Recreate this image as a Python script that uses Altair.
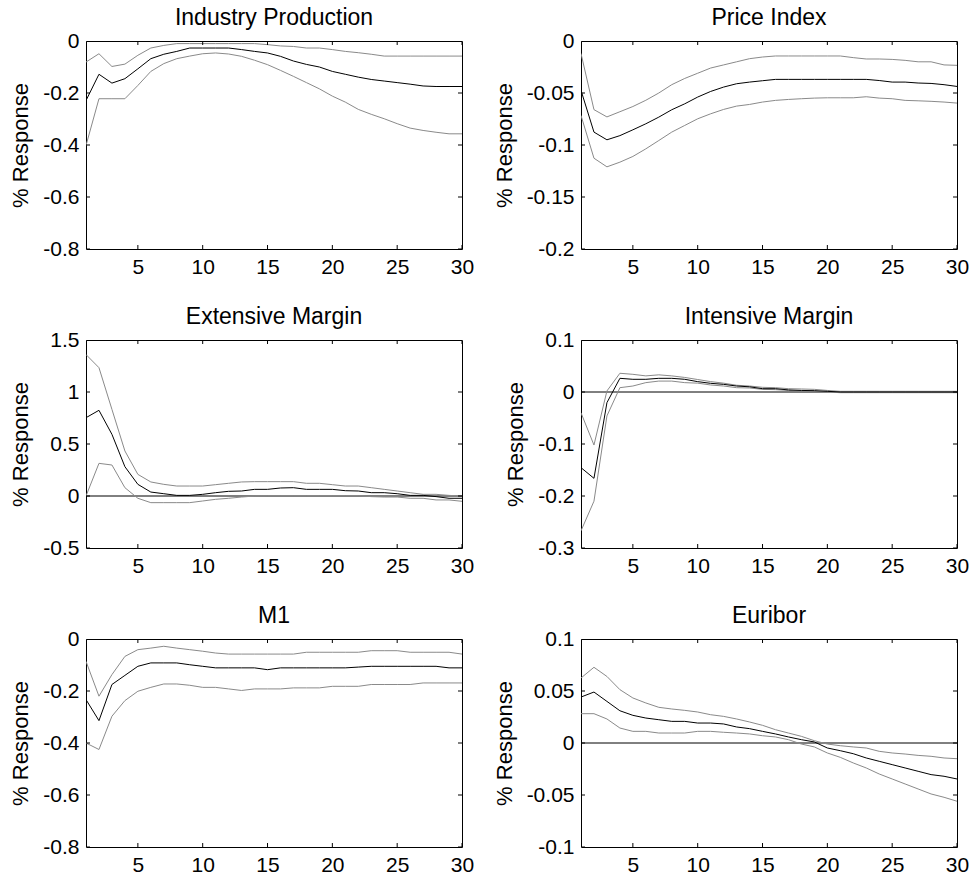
import altair as alt
import pandas as pd

# Impulse responses over a 30-period horizon: median with lower/upper bands
steps = list(range(1, 31))
x_ticks = [5, 10, 15, 20, 25, 30]

ip_median = [-0.229, -0.128, -0.162, -0.145, -0.107, -0.068, -0.051, -0.040, -0.027, -0.027,
             -0.027, -0.027, -0.033, -0.040, -0.046, -0.059, -0.077, -0.090, -0.100, -0.117,
             -0.128, -0.139, -0.148, -0.154, -0.160, -0.166, -0.173, -0.175, -0.175, -0.175]
ip_upper = [-0.081, -0.049, -0.098, -0.089, -0.055, -0.027, -0.017, -0.010, -0.010, -0.010,
            -0.010, -0.010, -0.010, -0.010, -0.014, -0.019, -0.021, -0.027, -0.027, -0.033,
            -0.040, -0.045, -0.051, -0.058, -0.058, -0.058, -0.058, -0.058, -0.058, -0.058]
ip_lower = [-0.402, -0.222, -0.222, -0.222, -0.171, -0.117, -0.087, -0.068, -0.058, -0.049,
            -0.046, -0.050, -0.059, -0.074, -0.091, -0.113, -0.136, -0.160, -0.184, -0.212,
            -0.235, -0.263, -0.282, -0.299, -0.318, -0.335, -0.344, -0.351, -0.357, -0.357]

pi_median = [-0.0475, -0.0876, -0.0950, -0.0910, -0.0854, -0.0796, -0.0732, -0.0661, -0.0604, -0.0539,
             -0.0485, -0.0443, -0.0411, -0.0395, -0.0382, -0.0369, -0.0369, -0.0369, -0.0369, -0.0369,
             -0.0369, -0.0369, -0.0369, -0.0380, -0.0395, -0.0395, -0.0404, -0.0408, -0.0420, -0.0437]
pi_upper = [-0.0120, -0.0660, -0.0730, -0.0680, -0.0630, -0.0570, -0.0500, -0.0420, -0.0360, -0.0310,
            -0.0260, -0.0230, -0.0200, -0.0170, -0.0154, -0.0144, -0.0144, -0.0144, -0.0144, -0.0144,
            -0.0144, -0.0160, -0.0173, -0.0173, -0.0177, -0.0186, -0.0200, -0.0200, -0.0230, -0.0234]
pi_lower = [-0.0716, -0.1127, -0.1210, -0.1165, -0.1110, -0.1037, -0.0957, -0.0876, -0.0812, -0.0748,
            -0.0700, -0.0658, -0.0626, -0.0610, -0.0587, -0.0571, -0.0562, -0.0555, -0.0549, -0.0546,
            -0.0546, -0.0546, -0.0536, -0.0549, -0.0555, -0.0571, -0.0575, -0.0580, -0.0587, -0.0597]

em_median = [0.753, 0.824, 0.593, 0.282, 0.112, 0.038, 0.022, 0.006, 0.006, 0.016,
             0.032, 0.045, 0.048, 0.064, 0.064, 0.077, 0.080, 0.064, 0.064, 0.064,
             0.051, 0.048, 0.032, 0.032, 0.022, 0.006, 0.006, -0.006, -0.022, -0.022]
em_upper = [1.360, 1.234, 0.833, 0.433, 0.208, 0.135, 0.112, 0.096, 0.096, 0.096,
            0.109, 0.122, 0.135, 0.138, 0.138, 0.138, 0.138, 0.122, 0.122, 0.109,
            0.096, 0.096, 0.080, 0.064, 0.048, 0.032, 0.016, 0.016, 0.006, 0.000]
em_lower = [0.000, 0.314, 0.298, 0.080, -0.022, -0.064, -0.064, -0.064, -0.064, -0.048,
            -0.032, -0.022, -0.010, 0.000, 0.003, 0.003, 0.003, 0.003, 0.003, 0.003,
            0.003, 0.003, -0.006, -0.010, -0.010, -0.022, -0.022, -0.038, -0.038, -0.051]

im_median = [-0.1455, -0.1660, -0.0205, 0.0263, 0.0244, 0.0244, 0.0263, 0.0263, 0.0244, 0.0199,
             0.0167, 0.0147, 0.0115, 0.0100, 0.0064, 0.0064, 0.0040, 0.0030, 0.0026, 0.0013,
             0.0, 0.0, 0.0, 0.0, 0.0, 0.0, 0.0, 0.0, 0.0, 0.0]
im_upper = [-0.0400, -0.1020, 0.0020, 0.0360, 0.0340, 0.0310, 0.0330, 0.0310, 0.0280, 0.0240,
            0.0200, 0.0170, 0.0130, 0.0115, 0.0090, 0.0083, 0.0064, 0.0058, 0.0051, 0.0030,
            0.0013, 0.0013, 0.0013, 0.0013, 0.0013, 0.0013, 0.0013, 0.0013, 0.0013, 0.0013]
im_lower = [-0.2670, -0.2100, -0.0460, 0.0083, 0.0115, 0.0180, 0.0210, 0.0210, 0.0180, 0.0170,
            0.0135, 0.0115, 0.0083, 0.0077, 0.0051, 0.0045, 0.0030, 0.0020, 0.0013, 0.0,
            -0.0013, -0.0013, -0.0013, -0.0013, -0.0013, -0.0013, -0.0013, -0.0013, -0.0013, -0.0013]

m1_median = [-0.233, -0.314, -0.175, -0.140, -0.105, -0.092, -0.092, -0.092, -0.099, -0.105,
             -0.111, -0.111, -0.111, -0.111, -0.118, -0.111, -0.111, -0.111, -0.111, -0.111,
             -0.111, -0.108, -0.105, -0.105, -0.105, -0.105, -0.105, -0.105, -0.111, -0.111]
m1_upper = [-0.086, -0.220, -0.137, -0.067, -0.041, -0.035, -0.028, -0.035, -0.041, -0.047,
            -0.054, -0.058, -0.058, -0.058, -0.058, -0.058, -0.058, -0.051, -0.051, -0.051,
            -0.051, -0.051, -0.045, -0.045, -0.045, -0.051, -0.051, -0.051, -0.051, -0.058]
m1_lower = [-0.400, -0.425, -0.297, -0.237, -0.201, -0.186, -0.173, -0.173, -0.178, -0.186,
            -0.186, -0.192, -0.198, -0.192, -0.192, -0.192, -0.188, -0.188, -0.188, -0.182,
            -0.182, -0.182, -0.175, -0.175, -0.175, -0.175, -0.169, -0.169, -0.169, -0.169]

eu_median = [0.0442, 0.0490, 0.0400, 0.0310, 0.0266, 0.0240, 0.0224, 0.0208, 0.0208, 0.0192,
             0.0192, 0.0183, 0.0154, 0.0138, 0.0112, 0.0087, 0.0058, 0.0032, 0.0010, -0.0048,
             -0.0074, -0.0103, -0.0144, -0.0176, -0.0208, -0.0240, -0.0272, -0.0304, -0.0320, -0.0346]
eu_upper = [0.0625, 0.0728, 0.0640, 0.0513, 0.0433, 0.0385, 0.0343, 0.0327, 0.0314, 0.0298,
            0.0272, 0.0256, 0.0231, 0.0202, 0.0170, 0.0128, 0.0096, 0.0064, 0.0022, -0.0010,
            -0.0026, -0.0038, -0.0048, -0.0080, -0.0096, -0.0106, -0.0119, -0.0128, -0.0144, -0.0151]
eu_lower = [0.0282, 0.0282, 0.0231, 0.0144, 0.0112, 0.0112, 0.0096, 0.0096, 0.0096, 0.0112,
            0.0112, 0.0103, 0.0096, 0.0087, 0.0070, 0.0058, 0.0032, -0.0010, -0.0038, -0.0096,
            -0.0138, -0.0192, -0.0240, -0.0298, -0.0346, -0.0394, -0.0442, -0.0490, -0.0522, -0.0560]

FONT = "Liberation Sans"
TICK = 4
LABEL_EXPR = "'' + datum.value"


def panel(title, median, lower, upper, y_domain, y_ticks, zero_line):
    bands = pd.DataFrame({
        "step": steps + steps,
        "value": lower + upper,
        "bound": ["lower"] * len(steps) + ["upper"] * len(steps),
    })
    centre = pd.DataFrame({"step": steps, "value": median})

    xs = alt.Scale(domain=[1, 30], nice=False, zero=False)
    ys = alt.Scale(domain=y_domain, nice=False, zero=False)
    x_axis = alt.Axis(orient="bottom", values=x_ticks, ticks=False, labelPadding=7,
                      title=None, labelExpr=LABEL_EXPR, labelFlush=False, labelOverlap=False)
    y_axis = alt.Axis(orient="left", values=y_ticks, ticks=False, labelPadding=7,
                      title="% Response", titlePadding=10, labelExpr=LABEL_EXPR,
                      labelFlush=False, labelOverlap=False)

    def xy():
        return dict(x=alt.X("step:Q", scale=xs, axis=x_axis),
                    y=alt.Y("value:Q", scale=ys, axis=y_axis))

    band_layer = alt.Chart(bands).mark_line(color="#8a8a8a", strokeWidth=1, clip=True).encode(
        detail="bound:N", **xy()
    )
    centre_layer = alt.Chart(centre).mark_line(color="black", strokeWidth=1, clip=True).encode(**xy())

    # inward tick marks on all four edges of the box (half of each tick is clipped away)
    xt = pd.DataFrame({"step": x_ticks * 2,
                       "value": [y_domain[0]] * len(x_ticks) + [y_domain[1]] * len(x_ticks)})
    yt = pd.DataFrame({"step": [1] * len(y_ticks) + [30] * len(y_ticks),
                       "value": y_ticks * 2})
    x_tick_layer = alt.Chart(xt).mark_tick(
        orient="vertical", size=2 * TICK, thickness=1, color="black", clip=True, opacity=1
    ).encode(**xy())
    y_tick_layer = alt.Chart(yt).mark_tick(
        orient="horizontal", size=2 * TICK, thickness=1, color="black", clip=True, opacity=1
    ).encode(**xy())

    layers = [band_layer, centre_layer, x_tick_layer, y_tick_layer]
    if zero_line:
        zero = alt.Chart(pd.DataFrame({"value": [0.0]})).mark_rule(color="black", strokeWidth=1).encode(
            y=alt.Y("value:Q", scale=ys, axis=y_axis)
        )
        layers = [zero] + layers

    return alt.layer(*layers).properties(
        width=376,
        height=208,
        title=alt.Title(title, fontSize=23, font=FONT, fontWeight="normal",
                        anchor="middle", baseline="alphabetic", offset=-18, color="black"),
    )


panels = [
    panel("Industry Production", ip_median, ip_lower, ip_upper, [-0.8, 0], [-0.8, -0.6, -0.4, -0.2, 0], False),
    panel("Price Index", pi_median, pi_lower, pi_upper, [-0.2, 0], [-0.2, -0.15, -0.1, -0.05, 0], False),
    panel("Extensive Margin", em_median, em_lower, em_upper, [-0.5, 1.5], [-0.5, 0, 0.5, 1, 1.5], True),
    panel("Intensive Margin", im_median, im_lower, im_upper, [-0.3, 0.1], [-0.3, -0.2, -0.1, 0, 0.1], True),
    panel("M1", m1_median, m1_lower, m1_upper, [-0.8, 0], [-0.8, -0.6, -0.4, -0.2, 0], False),
    panel("Euribor", eu_median, eu_lower, eu_upper, [-0.1, 0.1], [-0.1, -0.05, 0, 0.05, 0.1], True),
]

chart = alt.concat(
    *panels, columns=2, spacing={"row": 91, "column": 119}, bounds="flush"
).properties(
    padding={"left": 9, "top": 6, "right": 0, "bottom": 0},
    background="white",
).configure_view(
    stroke="black", strokeWidth=1
).configure_axis(
    domain=False, grid=False,
    labelFont=FONT, labelFontSize=21, labelColor="black",
    titleFont=FONT, titleFontSize=22, titleFontWeight="normal", titleColor="black",
)

chart.save("out.html", embed_options={"renderer": "svg", "actions": False})
